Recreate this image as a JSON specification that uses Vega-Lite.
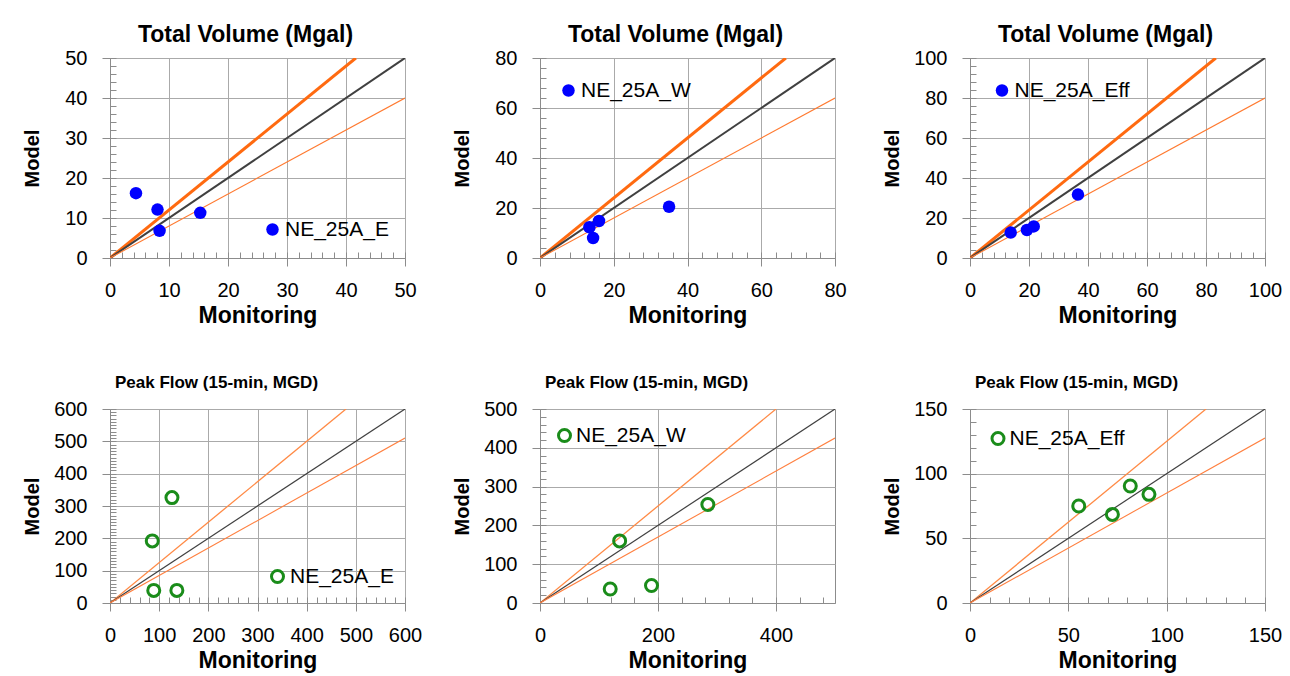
{
  "$schema": "https://vega.github.io/schema/vega-lite/v6.json",
  "background": "white",
  "padding": {"left": 21, "top": 23, "right": 5, "bottom": 5},
  "columns": 3,
  "spacing": {"row": 151, "column": 135},
  "bounds": "flush",
  "resolve": {
    "scale": {"color": "independent", "strokeWidth": "independent", "fill": "independent", "stroke": "independent"},
    "legend": {"fill": "independent", "stroke": "independent"}
  },
  "datasets": {
    "pts": [
      {"panel": "p1", "site": "NE_25A_E", "x": 4.4, "y": 16.2},
      {"panel": "p1", "site": "NE_25A_E", "x": 8.05, "y": 12.1},
      {"panel": "p1", "site": "NE_25A_E", "x": 8.4, "y": 6.8},
      {"panel": "p1", "site": "NE_25A_E", "x": 15.3, "y": 11.3},
      {"panel": "p2", "site": "NE_25A_W", "x": 13.4, "y": 12.3},
      {"panel": "p2", "site": "NE_25A_W", "x": 16.0, "y": 14.8},
      {"panel": "p2", "site": "NE_25A_W", "x": 14.4, "y": 8.0},
      {"panel": "p2", "site": "NE_25A_W", "x": 35.0, "y": 20.5},
      {"panel": "p3", "site": "NE_25A_Eff", "x": 13.8, "y": 12.7},
      {"panel": "p3", "site": "NE_25A_Eff", "x": 19.3, "y": 14.0},
      {"panel": "p3", "site": "NE_25A_Eff", "x": 21.6, "y": 15.8},
      {"panel": "p3", "site": "NE_25A_Eff", "x": 36.6, "y": 31.7},
      {"panel": "p4", "site": "NE_25A_E", "x": 86, "y": 192},
      {"panel": "p4", "site": "NE_25A_E", "x": 126, "y": 326},
      {"panel": "p4", "site": "NE_25A_E", "x": 89, "y": 39},
      {"panel": "p4", "site": "NE_25A_E", "x": 136, "y": 39},
      {"panel": "p5", "site": "NE_25A_W", "x": 135, "y": 160},
      {"panel": "p5", "site": "NE_25A_W", "x": 284.5, "y": 254},
      {"panel": "p5", "site": "NE_25A_W", "x": 119, "y": 36},
      {"panel": "p5", "site": "NE_25A_W", "x": 189, "y": 45},
      {"panel": "p6", "site": "NE_25A_Eff", "x": 55.3, "y": 75},
      {"panel": "p6", "site": "NE_25A_Eff", "x": 72.4, "y": 68.5},
      {"panel": "p6", "site": "NE_25A_Eff", "x": 81.5, "y": 90.5},
      {"panel": "p6", "site": "NE_25A_Eff", "x": 91, "y": 84}
    ],
    "refl": [
      {"panel": "p1", "line": "upper", "x": 0, "y": 0}, {"panel": "p1", "line": "upper", "x": 41.67, "y": 50},
      {"panel": "p1", "line": "one", "x": 0, "y": 0}, {"panel": "p1", "line": "one", "x": 50, "y": 50},
      {"panel": "p1", "line": "lower", "x": 0, "y": 0}, {"panel": "p1", "line": "lower", "x": 50, "y": 40},
      {"panel": "p2", "line": "upper", "x": 0, "y": 0}, {"panel": "p2", "line": "upper", "x": 66.67, "y": 80},
      {"panel": "p2", "line": "one", "x": 0, "y": 0}, {"panel": "p2", "line": "one", "x": 80, "y": 80},
      {"panel": "p2", "line": "lower", "x": 0, "y": 0}, {"panel": "p2", "line": "lower", "x": 80, "y": 64},
      {"panel": "p3", "line": "upper", "x": 0, "y": 0}, {"panel": "p3", "line": "upper", "x": 83.33, "y": 100},
      {"panel": "p3", "line": "one", "x": 0, "y": 0}, {"panel": "p3", "line": "one", "x": 100, "y": 100},
      {"panel": "p3", "line": "lower", "x": 0, "y": 0}, {"panel": "p3", "line": "lower", "x": 100, "y": 80},
      {"panel": "p4", "line": "upper", "x": 0, "y": 0}, {"panel": "p4", "line": "upper", "x": 480, "y": 600},
      {"panel": "p4", "line": "one", "x": 0, "y": 0}, {"panel": "p4", "line": "one", "x": 600, "y": 600},
      {"panel": "p4", "line": "lower", "x": 0, "y": 0}, {"panel": "p4", "line": "lower", "x": 600, "y": 510},
      {"panel": "p5", "line": "upper", "x": 0, "y": 0}, {"panel": "p5", "line": "upper", "x": 400, "y": 500},
      {"panel": "p5", "line": "one", "x": 0, "y": 0}, {"panel": "p5", "line": "one", "x": 500, "y": 500},
      {"panel": "p5", "line": "lower", "x": 0, "y": 0}, {"panel": "p5", "line": "lower", "x": 500, "y": 425},
      {"panel": "p6", "line": "upper", "x": 0, "y": 0}, {"panel": "p6", "line": "upper", "x": 120, "y": 150},
      {"panel": "p6", "line": "one", "x": 0, "y": 0}, {"panel": "p6", "line": "one", "x": 150, "y": 150},
      {"panel": "p6", "line": "lower", "x": 0, "y": 0}, {"panel": "p6", "line": "lower", "x": 150, "y": 127.5}
    ]
  },
  "config": {
    "font": "Liberation Sans",
    "view": {"stroke": "#8c8c8c", "strokeWidth": 1},
    "axis": {
      "labelFont": "Liberation Sans", "labelFontSize": 20, "labelColor": "#000000",
      "labelFlush": false, "labelOverlap": false,
      "gridColor": "#aaaaaa", "gridWidth": 1, "domainColor": "#8c8c8c", "tickColor": "#8c8c8c",
      "tickSize": 8, "titleFont": "Liberation Sans", "titleColor": "#000000", "titleFontWeight": "bold"
    },
    "axisX": {"labelPadding": 14, "titleFontSize": 23, "titleX": 147.5, "titleY": 64, "titleBaseline": "alphabetic", "titleAlign": "center"},
    "axisY": {"labelPadding": 15, "titleFontSize": 20, "titleX": -72, "titleBaseline": "alphabetic", "titleAlign": "center"},
    "legend": {"orient": "none", "title": null, "padding": 0, "labelFont": "Liberation Sans", "labelFontSize": 21, "labelColor": "#000000", "labelOffset": 2, "symbolType": "circle"},
    "title": {"font": "Liberation Sans", "fontWeight": "bold", "color": "#000000", "frame": "group", "anchor": "middle", "baseline": "alphabetic"}
  },
  "concat": [
    {
      "width": 295, "height": 200,
      "title": {"text": "Total Volume (Mgal)", "fontSize": 23, "dx": -12, "offset": 1},
      "layer": [
        {"data": {"name": "refl"}, "transform": [{"filter": "datum.panel === 'p1'"}],
         "mark": {"type": "line", "clip": true},
         "encoding": {
           "x": {"field": "x", "type": "quantitative", "scale": {"domain": [0, 50], "nice": false, "zero": false},
                 "axis": {"orient": "bottom", "values": [0, 10, 20, 30, 40, 50], "grid": true, "title": "Monitoring"}},
           "y": {"field": "y", "type": "quantitative", "scale": {"domain": [0, 50], "nice": false, "zero": false},
                 "axis": {"orient": "left", "values": [0, 10, 20, 30, 40, 50], "grid": true, "title": "Model", "titleY": 100}},
           "color": {"field": "line", "type": "nominal", "scale": {"domain": ["upper", "one", "lower"], "range": ["#ff6a10", "#404040", "#ff7a30"]}, "legend": null},
           "strokeWidth": {"field": "line", "type": "nominal", "scale": {"domain": ["upper", "one", "lower"], "range": [3, 1.1, 1.3]}, "legend": null}
         }},
        {"data": {"name": "pts"}, "transform": [{"filter": "datum.panel === 'p1'"}],
         "mark": {"type": "circle", "size": 156, "opacity": 1},
         "encoding": {
           "x": {"field": "x", "type": "quantitative", "scale": {"domain": [0, 50], "nice": false, "zero": false},
                 "axis": {"orient": "bottom", "values": [0,2,4,6,8,10,12,14,16,18,20,22,24,26,28,30,32,34,36,38,40,42,44,46,48,50], "labels": false, "grid": false, "domain": false, "tickSize": -6, "title": null}},
           "y": {"field": "y", "type": "quantitative", "scale": {"domain": [0, 50], "nice": false, "zero": false},
                 "axis": {"orient": "left", "values": [0,2,4,6,8,10,12,14,16,18,20,22,24,26,28,30,32,34,36,38,40,42,44,46,48,50], "labels": false, "grid": false, "domain": false, "tickSize": -6, "title": null}},
           "fill": {"field": "site", "type": "nominal", "scale": {"range": ["#0000ff"]},
                    "legend": {"legendX": 152, "legendY": 161, "symbolSize": 156, "symbolStrokeWidth": 0}}
         }}
      ],
      "resolve": {"axis": {"x": "independent", "y": "independent"}}
    },
    {
      "width": 295, "height": 200,
      "title": {"text": "Total Volume (Mgal)", "fontSize": 23, "dx": -12, "offset": 1},
      "layer": [
        {"data": {"name": "refl"}, "transform": [{"filter": "datum.panel === 'p2'"}],
         "mark": {"type": "line", "clip": true},
         "encoding": {
           "x": {"field": "x", "type": "quantitative", "scale": {"domain": [0, 80], "nice": false, "zero": false},
                 "axis": {"orient": "bottom", "values": [0, 20, 40, 60, 80], "grid": true, "title": "Monitoring"}},
           "y": {"field": "y", "type": "quantitative", "scale": {"domain": [0, 80], "nice": false, "zero": false},
                 "axis": {"orient": "left", "values": [0, 20, 40, 60, 80], "grid": true, "title": "Model", "titleY": 100}},
           "color": {"field": "line", "type": "nominal", "scale": {"domain": ["upper", "one", "lower"], "range": ["#ff6a10", "#404040", "#ff7a30"]}, "legend": null},
           "strokeWidth": {"field": "line", "type": "nominal", "scale": {"domain": ["upper", "one", "lower"], "range": [3, 1.1, 1.3]}, "legend": null}
         }},
        {"data": {"name": "pts"}, "transform": [{"filter": "datum.panel === 'p2'"}],
         "mark": {"type": "circle", "size": 156, "opacity": 1},
         "encoding": {
           "x": {"field": "x", "type": "quantitative", "scale": {"domain": [0, 80], "nice": false, "zero": false},
                 "axis": {"orient": "bottom", "values": [0,4,8,12,16,20,24,28,32,36,40,44,48,52,56,60,64,68,72,76,80], "labels": false, "grid": false, "domain": false, "tickSize": -6, "title": null}},
           "y": {"field": "y", "type": "quantitative", "scale": {"domain": [0, 80], "nice": false, "zero": false},
                 "axis": {"orient": "left", "values": [0,4,8,12,16,20,24,28,32,36,40,44,48,52,56,60,64,68,72,76,80], "labels": false, "grid": false, "domain": false, "tickSize": -6, "title": null}},
           "fill": {"field": "site", "type": "nominal", "scale": {"range": ["#0000ff"]},
                    "legend": {"legendX": 18, "legendY": 22, "symbolSize": 156, "symbolStrokeWidth": 0}}
         }}
      ],
      "resolve": {"axis": {"x": "independent", "y": "independent"}}
    },
    {
      "width": 295, "height": 200,
      "title": {"text": "Total Volume (Mgal)", "fontSize": 23, "dx": -12, "offset": 1},
      "layer": [
        {"data": {"name": "refl"}, "transform": [{"filter": "datum.panel === 'p3'"}],
         "mark": {"type": "line", "clip": true},
         "encoding": {
           "x": {"field": "x", "type": "quantitative", "scale": {"domain": [0, 100], "nice": false, "zero": false},
                 "axis": {"orient": "bottom", "values": [0, 20, 40, 60, 80, 100], "grid": true, "title": "Monitoring"}},
           "y": {"field": "y", "type": "quantitative", "scale": {"domain": [0, 100], "nice": false, "zero": false},
                 "axis": {"orient": "left", "values": [0, 20, 40, 60, 80, 100], "grid": true, "title": "Model", "titleY": 100}},
           "color": {"field": "line", "type": "nominal", "scale": {"domain": ["upper", "one", "lower"], "range": ["#ff6a10", "#404040", "#ff7a30"]}, "legend": null},
           "strokeWidth": {"field": "line", "type": "nominal", "scale": {"domain": ["upper", "one", "lower"], "range": [3, 1.1, 1.3]}, "legend": null}
         }},
        {"data": {"name": "pts"}, "transform": [{"filter": "datum.panel === 'p3'"}],
         "mark": {"type": "circle", "size": 156, "opacity": 1},
         "encoding": {
           "x": {"field": "x", "type": "quantitative", "scale": {"domain": [0, 100], "nice": false, "zero": false},
                 "axis": {"orient": "bottom", "values": [0,4,8,12,16,20,24,28,32,36,40,44,48,52,56,60,64,68,72,76,80,84,88,92,96,100], "labels": false, "grid": false, "domain": false, "tickSize": -6, "title": null}},
           "y": {"field": "y", "type": "quantitative", "scale": {"domain": [0, 100], "nice": false, "zero": false},
                 "axis": {"orient": "left", "values": [0,4,8,12,16,20,24,28,32,36,40,44,48,52,56,60,64,68,72,76,80,84,88,92,96,100], "labels": false, "grid": false, "domain": false, "tickSize": -6, "title": null}},
           "fill": {"field": "site", "type": "nominal", "scale": {"range": ["#0000ff"]},
                    "legend": {"legendX": 21.5, "legendY": 22, "symbolSize": 156, "symbolStrokeWidth": 0}}
         }}
      ],
      "resolve": {"axis": {"x": "independent", "y": "independent"}}
    },
    {
      "width": 295, "height": 194,
      "title": {"text": "Peak Flow (15-min, MGD)", "fontSize": 17, "dx": -41, "offset": 7},
      "layer": [
        {"data": {"name": "refl"}, "transform": [{"filter": "datum.panel === 'p4'"}],
         "mark": {"type": "line", "clip": true},
         "encoding": {
           "x": {"field": "x", "type": "quantitative", "scale": {"domain": [0, 600], "nice": false, "zero": false},
                 "axis": {"orient": "bottom", "values": [0, 100, 200, 300, 400, 500, 600], "grid": true, "title": "Monitoring"}},
           "y": {"field": "y", "type": "quantitative", "scale": {"domain": [0, 600], "nice": false, "zero": false},
                 "axis": {"orient": "left", "values": [0, 100, 200, 300, 400, 500, 600], "grid": true, "title": "Model", "titleY": 97}},
           "color": {"field": "line", "type": "nominal", "scale": {"domain": ["upper", "one", "lower"], "range": ["#ff8a45", "#404040", "#ff8040"]}, "legend": null},
           "strokeWidth": {"field": "line", "type": "nominal", "scale": {"domain": ["upper", "one", "lower"], "range": [1.3, 1.1, 1.5]}, "legend": null}
         }},
        {"data": {"name": "pts"}, "transform": [{"filter": "datum.panel === 'p4'"}],
         "mark": {"type": "point", "shape": "circle", "size": 144, "filled": false, "strokeWidth": 3, "opacity": 1},
         "encoding": {
           "x": {"field": "x", "type": "quantitative", "scale": {"domain": [0, 600], "nice": false, "zero": false},
                 "axis": {"orient": "bottom", "values": [0,20,40,60,80,100,120,140,160,180,200,220,240,260,280,300,320,340,360,380,400,420,440,460,480,500,520,540,560,580,600], "labels": false, "grid": false, "domain": false, "tickSize": -6, "title": null}},
           "y": {"field": "y", "type": "quantitative", "scale": {"domain": [0, 600], "nice": false, "zero": false},
                 "axis": {"orient": "left", "values": [0,10,20,30,40,50,60,70,80,90,100,110,120,130,140,150,160,170,180,190,200,210,220,230,240,250,260,270,280,290,300,310,320,330,340,350,360,370,380,390,400,410,420,430,440,450,460,470,480,490,500,510,520,530,540,550,560,570,580,590,600], "labels": false, "grid": false, "domain": false, "tickSize": -6, "title": null}},
           "stroke": {"field": "site", "type": "nominal", "scale": {"range": ["#1a8c1a"]},
                      "legend": {"legendX": 157, "legendY": 157, "symbolSize": 144, "symbolStrokeWidth": 3, "labelOffset": 2}}
         }}
      ],
      "resolve": {"axis": {"x": "independent", "y": "independent"}}
    },
    {
      "width": 295, "height": 194,
      "title": {"text": "Peak Flow (15-min, MGD)", "fontSize": 17, "dx": -41, "offset": 7},
      "layer": [
        {"data": {"name": "refl"}, "transform": [{"filter": "datum.panel === 'p5'"}],
         "mark": {"type": "line", "clip": true},
         "encoding": {
           "x": {"field": "x", "type": "quantitative", "scale": {"domain": [0, 500], "nice": false, "zero": false},
                 "axis": {"orient": "bottom", "values": [0, 200, 400], "grid": true, "title": "Monitoring"}},
           "y": {"field": "y", "type": "quantitative", "scale": {"domain": [0, 500], "nice": false, "zero": false},
                 "axis": {"orient": "left", "values": [0, 100, 200, 300, 400, 500], "grid": true, "title": "Model", "titleY": 97}},
           "color": {"field": "line", "type": "nominal", "scale": {"domain": ["upper", "one", "lower"], "range": ["#ff8a45", "#404040", "#ff8040"]}, "legend": null},
           "strokeWidth": {"field": "line", "type": "nominal", "scale": {"domain": ["upper", "one", "lower"], "range": [1.3, 1.1, 1.5]}, "legend": null}
         }},
        {"data": {"name": "pts"}, "transform": [{"filter": "datum.panel === 'p5'"}],
         "mark": {"type": "point", "shape": "circle", "size": 144, "filled": false, "strokeWidth": 3, "opacity": 1},
         "encoding": {
           "x": {"field": "x", "type": "quantitative", "scale": {"domain": [0, 500], "nice": false, "zero": false},
                 "axis": {"orient": "bottom", "values": [0,40,80,120,160,200,240,280,320,360,400,440,480], "labels": false, "grid": false, "domain": false, "tickSize": -6, "title": null}},
           "y": {"field": "y", "type": "quantitative", "scale": {"domain": [0, 500], "nice": false, "zero": false},
                 "axis": {"orient": "left", "values": [0,20,40,60,80,100,120,140,160,180,200,220,240,260,280,300,320,340,360,380,400,420,440,460,480,500], "labels": false, "grid": false, "domain": false, "tickSize": -6, "title": null}},
           "stroke": {"field": "site", "type": "nominal", "scale": {"range": ["#1a8c1a"]},
                      "legend": {"legendX": 14, "legendY": 16, "symbolSize": 144, "symbolStrokeWidth": 3, "labelOffset": 1}}
         }}
      ],
      "resolve": {"axis": {"x": "independent", "y": "independent"}}
    },
    {
      "width": 295, "height": 194,
      "title": {"text": "Peak Flow (15-min, MGD)", "fontSize": 17, "dx": -41, "offset": 7},
      "layer": [
        {"data": {"name": "refl"}, "transform": [{"filter": "datum.panel === 'p6'"}],
         "mark": {"type": "line", "clip": true},
         "encoding": {
           "x": {"field": "x", "type": "quantitative", "scale": {"domain": [0, 150], "nice": false, "zero": false},
                 "axis": {"orient": "bottom", "values": [0, 50, 100, 150], "grid": true, "title": "Monitoring"}},
           "y": {"field": "y", "type": "quantitative", "scale": {"domain": [0, 150], "nice": false, "zero": false},
                 "axis": {"orient": "left", "values": [0, 50, 100, 150], "grid": true, "title": "Model", "titleY": 97}},
           "color": {"field": "line", "type": "nominal", "scale": {"domain": ["upper", "one", "lower"], "range": ["#ff8a45", "#404040", "#ff8040"]}, "legend": null},
           "strokeWidth": {"field": "line", "type": "nominal", "scale": {"domain": ["upper", "one", "lower"], "range": [1.3, 1.1, 1.5]}, "legend": null}
         }},
        {"data": {"name": "pts"}, "transform": [{"filter": "datum.panel === 'p6'"}],
         "mark": {"type": "point", "shape": "circle", "size": 144, "filled": false, "strokeWidth": 3, "opacity": 1},
         "encoding": {
           "x": {"field": "x", "type": "quantitative", "scale": {"domain": [0, 150], "nice": false, "zero": false},
                 "axis": {"orient": "bottom", "values": [0,10,20,30,40,50,60,70,80,90,100,110,120,130,140,150], "labels": false, "grid": false, "domain": false, "tickSize": -6, "title": null}},
           "y": {"field": "y", "type": "quantitative", "scale": {"domain": [0, 150], "nice": false, "zero": false},
                 "axis": {"orient": "left", "values": [0,10,20,30,40,50,60,70,80,90,100,110,120,130,140,150], "labels": false, "grid": false, "domain": false, "tickSize": -6, "title": null}},
           "stroke": {"field": "site", "type": "nominal", "scale": {"range": ["#1a8c1a"]},
                      "legend": {"legendX": 17.5, "legendY": 19, "symbolSize": 144, "symbolStrokeWidth": 3, "labelOffset": 1}}
         }}
      ],
      "resolve": {"axis": {"x": "independent", "y": "independent"}}
    }
  ]
}
